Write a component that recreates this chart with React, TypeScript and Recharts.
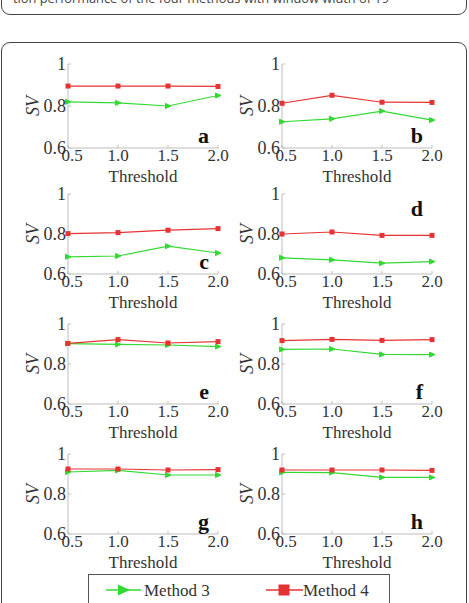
import React from 'react';
import { LineChart, Line, XAxis, YAxis } from 'recharts';

// threshold values on the x axis
const thresholds = [0.5, 1.0, 1.5, 2.0];
const yTicks = [0.6, 0.8, 1];
const seriesNames = ['Method 3', 'Method 4'];
const panelNames = ['a', 'b', 'c', 'd', 'e', 'f', 'g', 'h'];

// SV per panel, Method 3
const m3a = [0.82, 0.815, 0.8, 0.85];
const m3b = [0.725, 0.739, 0.776, 0.733];
const m3c = [0.686, 0.69, 0.739, 0.705];
const m3d = [0.681, 0.671, 0.654, 0.662];
const m3e = [0.902, 0.898, 0.895, 0.887];
const m3f = [0.873, 0.875, 0.848, 0.847];
const m3g = [0.91, 0.918, 0.895, 0.895];
const m3h = [0.908, 0.907, 0.883, 0.883];

// SV per panel, Method 4
const m4a = [0.895, 0.895, 0.895, 0.893];
const m4b = [0.813, 0.851, 0.818, 0.817];
const m4c = [0.802, 0.807, 0.819, 0.827];
const m4d = [0.8, 0.81, 0.793, 0.793];
const m4e = [0.903, 0.922, 0.905, 0.912];
const m4f = [0.917, 0.923, 0.918, 0.922];
const m4g = [0.925, 0.925, 0.92, 0.922];
const m4h = [0.92, 0.92, 0.92, 0.918];

const method3 = [m3a, m3b, m3c, m3d, m3e, m3f, m3g, m3h];
const method4 = [m4a, m4b, m4c, m4d, m4e, m4f, m4g, m4h];

const GREEN = '#33d933';
const RED = '#e53333';
const FRAME = '#bdbdbd';
const TEXT = '#333';
const SERIF = '"Liberation Serif", "Times New Roman", serif';

const colLeft = [68, 282];
const rowTop = [64, 194, 324, 454];
const rowH = [84, 80, 80, 80];
const PLOT_W = 150;
const Y_AXIS_W = 60;
const X_AXIS_H = 38;
const CHART_W = 240;

const XTick = ({ x, y, payload, index }: any) => (
  <text
    x={x + (index === 0 ? 4 : 0)}
    y={y}
    dy="0.71em"
    textAnchor="middle"
    fontFamily={SERIF}
    fontSize={17}
    fill={TEXT}
  >
    {Number(payload.value).toFixed(1)}
  </text>
);

const YTick = ({ x, y, payload }: any) => (
  <text
    x={x}
    y={y}
    dy="0.35em"
    textAnchor="end"
    fontFamily={SERIF}
    fontSize={18}
    fill={TEXT}
  >
    {payload.value === 1 ? '1' : Number(payload.value).toFixed(1)}
  </text>
);

const triangleDot = (props: any) => {
  const { cx, cy, index } = props;
  return (
    <path
      key={`t-${index}`}
      d={`M${cx - 2.5},${cy - 2.5} L${cx + 3},${cy} L${cx - 2.5},${cy + 2.5} Z`}
      fill={GREEN}
      stroke={GREEN}
    />
  );
};

const squareDot = (props: any) => {
  const { cx, cy, index } = props;
  return <rect key={`s-${index}`} x={cx - 2.5} y={cy - 2.5} width={5} height={5} fill={RED} />;
};

function Panel({ idx }: { idx: number }) {
  const col = idx % 2;
  const row = Math.floor(idx / 2);
  const plotH = rowH[row];
  const data = thresholds.map((t, i) => ({
    threshold: t,
    m3: method3[idx][i],
    m4: method4[idx][i],
  }));

  return (
    <div style={{ position: 'absolute', left: colLeft[col] - Y_AXIS_W, top: rowTop[row] - 10 }}>
      <LineChart
        width={CHART_W}
        height={10 + plotH + X_AXIS_H}
        data={data}
        margin={{ top: 10, right: CHART_W - Y_AXIS_W - PLOT_W, left: 0, bottom: 0 }}
      >
        <XAxis
          dataKey="threshold"
          type="number"
          domain={[0.5, 2]}
          ticks={thresholds}
          height={X_AXIS_H}
          stroke={FRAME}
          tickSize={-3}
          tickMargin={4}
          tick={<XTick />}
          label={{
            value: 'Threshold',
            position: 'insideBottom',
            offset: 4,
            fill: TEXT,
            fontSize: 17,
            fontFamily: SERIF,
          }}
        />
        <XAxis
          xAxisId="top"
          orientation="top"
          type="number"
          domain={[0.5, 2]}
          ticks={thresholds}
          height={0}
          stroke={FRAME}
          tickSize={-3}
          tick={false}
        />
        <YAxis
          type="number"
          domain={[0.6, 1]}
          ticks={yTicks}
          width={Y_AXIS_W}
          stroke={FRAME}
          tickSize={-3}
          tickMargin={5}
          tick={<YTick />}
        />
        <YAxis
          yAxisId="right"
          orientation="right"
          type="number"
          domain={[0.6, 1]}
          ticks={yTicks}
          width={0}
          stroke={FRAME}
          tickSize={-3}
          tick={false}
        />
        <Line
          dataKey="m3"
          name={seriesNames[0]}
          stroke={GREEN}
          strokeWidth={1.2}
          dot={triangleDot}
          isAnimationActive={false}
        />
        <Line
          dataKey="m4"
          name={seriesNames[1]}
          stroke={RED}
          strokeWidth={1.2}
          dot={squareDot}
          isAnimationActive={false}
        />
      </LineChart>
    </div>
  );
}

export default function App() {
  return (
    <div
      style={{
        position: 'absolute',
        left: 0,
        top: 0,
        width: 469,
        height: 603,
        overflow: 'hidden',
        background: '#fff',
      }}
    >
      {/* caption box above, cut off at the top */}
      <div
        style={{
          position: 'absolute',
          left: 1,
          top: -40,
          width: 464,
          height: 53,
          border: '1px solid #444',
          borderRadius: 9,
        }}
      />
      {/* figure box */}
      <div
        style={{
          position: 'absolute',
          left: 1,
          top: 42,
          width: 464,
          height: 600,
          border: '1px solid #444',
          borderRadius: 9,
        }}
      />

      {panelNames.map((_, i) => (
        <Panel key={i} idx={i} />
      ))}

      {/* axis titles, panel letters and caption line */}
      <svg
        width={469}
        height={603}
        style={{ position: 'absolute', left: 0, top: 0, pointerEvents: 'none' }}
      >
        <text x={13} y={3} fontFamily='"Open Sans", sans-serif' fontSize={12.8} fill="#444">
          tion performance of the four methods with window width of 19
        </text>
        {panelNames.map((name, i) => {
          const col = i % 2;
          const row = Math.floor(i / 2);
          const left = colLeft[col];
          const top = rowTop[row];
          const h = rowH[row];
          const cy = top + h / 2;
          return (
            <g key={name}>
              <text
                x={left - 35}
                y={cy}
                transform={`rotate(-90 ${left - 35} ${cy})`}
                textAnchor="middle"
                dominantBaseline="central"
                fontFamily={SERIF}
                fontStyle="italic"
                fontSize={18}
                fill={TEXT}
              >
                SV
              </text>
              <text
                x={left + PLOT_W - 9}
                y={name === 'd' ? top + 22 : top + h - 5}
                textAnchor="end"
                fontFamily={SERIF}
                fontWeight="bold"
                fontSize={22}
                fill="#111"
              >
                {name}
              </text>
            </g>
          );
        })}
      </svg>

      {/* shared legend */}
      <div
        style={{
          position: 'absolute',
          left: 88,
          top: 574,
          width: 300,
          height: 40,
          border: '1px solid #555',
          background: '#fff',
        }}
      >
        <svg width={300} height={40}>
          <line x1={17} y1={15} x2={52} y2={15} stroke={GREEN} strokeWidth={1.5} />
          <path d="M29,9.5 L41,15 L29,20.5 Z" fill={GREEN} />
          <text x={55} y={21} fontFamily={SERIF} fontSize={17} fill={TEXT}>
            {seriesNames[0]}
          </text>
          <line x1={177} y1={15} x2={214} y2={15} stroke={RED} strokeWidth={1.5} />
          <rect x={189.5} y={9.5} width={11} height={11} fill={RED} />
          <text x={214} y={21} fontFamily={SERIF} fontSize={17} fill={TEXT}>
            {seriesNames[1]}
          </text>
        </svg>
      </div>
    </div>
  );
}
